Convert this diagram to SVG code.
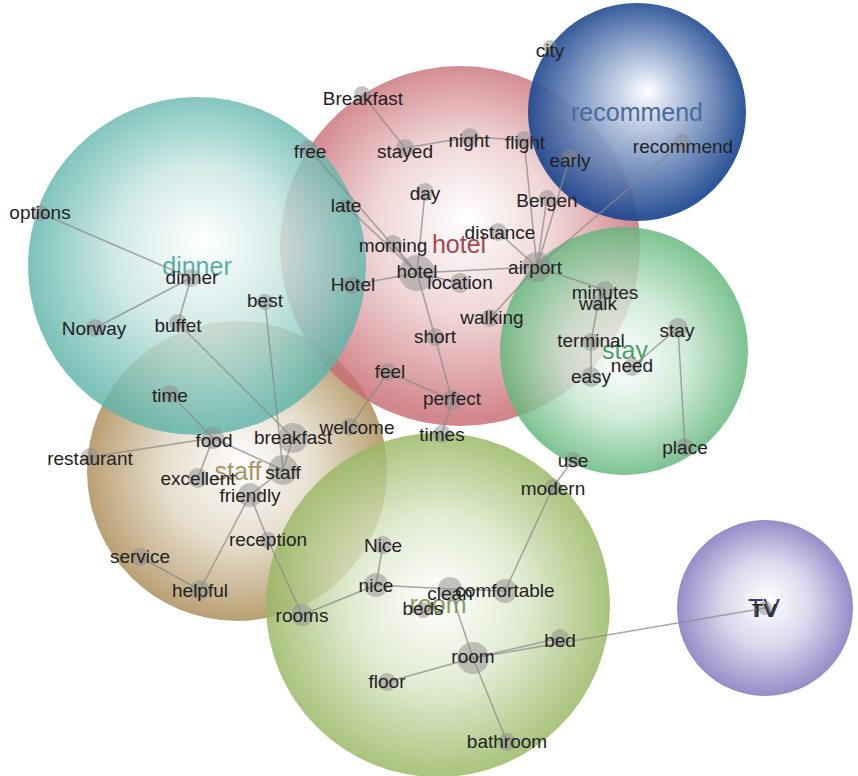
<svg xmlns="http://www.w3.org/2000/svg" width="858" height="776" viewBox="0 0 858 776">
<style>
.bg{fill:#ffffff}
.cl{stroke:none;opacity:0.82}
.e{stroke:#8a8a8a;stroke-opacity:0.75;stroke-width:1.5;fill:none}
.n{fill:#8c8c8c;fill-opacity:0.5;stroke:none}
.t{font-family:"Liberation Sans",Arial,sans-serif;font-size:19px;fill:#222;text-anchor:middle}
.g{font-family:"Liberation Sans",Arial,sans-serif;font-size:25px;text-anchor:middle}
</style>
<defs>
<radialGradient id="gDinner" cx="50%" cy="48%" r="50%" fx="52%" fy="42%"><stop offset="0" stop-color="#ffffff"/><stop offset="0.5" stop-color="#c7e5e1"/><stop offset="1" stop-color="#5fb5ab"/></radialGradient>
<radialGradient id="gHotel" cx="50%" cy="48%" r="50%" fx="52%" fy="42%"><stop offset="0" stop-color="#ffffff"/><stop offset="0.5" stop-color="#eccccd"/><stop offset="1" stop-color="#c86c73"/></radialGradient>
<radialGradient id="gRec" cx="50%" cy="48%" r="50%" fx="55%" fy="40%"><stop offset="0" stop-color="#ffffff"/><stop offset="0.2" stop-color="#cdd8ea"/><stop offset="1" stop-color="#1d4790"/></radialGradient>
<radialGradient id="gStay" cx="50%" cy="50%" r="50%" fx="50%" fy="55%"><stop offset="0" stop-color="#ffffff"/><stop offset="0.5" stop-color="#c7e6d0"/><stop offset="1" stop-color="#60b679"/></radialGradient>
<radialGradient id="gStaff" cx="50%" cy="50%" r="50%" fx="52%" fy="48%"><stop offset="0" stop-color="#ffffff"/><stop offset="0.5" stop-color="#e1d7c3"/><stop offset="1" stop-color="#aa8b54"/></radialGradient>
<radialGradient id="gRoom" cx="50%" cy="50%" r="50%" fx="50%" fy="48%"><stop offset="0" stop-color="#ffffff"/><stop offset="0.5" stop-color="#dbe6c8"/><stop offset="1" stop-color="#97b660"/></radialGradient>
<radialGradient id="gTV" cx="50%" cy="50%" r="50%" fx="52%" fy="45%"><stop offset="0" stop-color="#ffffff"/><stop offset="0.5" stop-color="#d2cee8"/><stop offset="1" stop-color="#7f73bc"/></radialGradient>
</defs>
<rect class="bg" x="0" y="0" width="858" height="776"/>

<g id="clusters">
<circle id="c-staff" class="cl" cx="237" cy="471" r="150" fill="url(#gStaff)"/>
<circle id="c-hotel" class="cl" cx="460" cy="246" r="180" fill="url(#gHotel)"/>
<circle id="c-dinner" class="cl" cx="197" cy="266" r="169" fill="url(#gDinner)"/>
<circle id="c-room" class="cl" cx="438" cy="605" r="172" fill="url(#gRoom)"/>
<circle id="c-stay" class="cl" cx="624" cy="351" r="124" fill="url(#gStay)"/>
<circle id="c-recommend" class="cl" cx="637" cy="112" r="109" fill="url(#gRec)" style="opacity:0.92"/>
<circle id="c-tv" class="cl" cx="765" cy="608" r="88" fill="url(#gTV)"/>
</g>

<g id="cluster-labels">
<text class="g" x="197" y="275" fill="#5aaea8">dinner</text>
<text class="g" x="459" y="253" fill="#a8464f">hotel</text>
<text class="g" x="637" y="121" fill="#4a6a9c">recommend</text>
<text class="g" x="625" y="359" fill="#4a9e68">stay</text>
<text class="g" x="238" y="480" fill="#ad9163">staff</text>
<text class="g" x="438" y="613" fill="#8c9a5c">room</text>
<text class="g" x="764" y="617" fill="#3a3a6e">TV</text>
</g>

<g id="connectors">
<line class="e" x1="362" y1="94" x2="405" y2="148"/>
<line class="e" x1="405" y1="148" x2="470" y2="137"/>
<line class="e" x1="470" y1="137" x2="524" y2="140"/>
<line class="e" x1="524" y1="140" x2="537" y2="267"/>
<line class="e" x1="570" y1="157" x2="537" y2="267"/>
<line class="e" x1="547" y1="198" x2="537" y2="267"/>
<line class="e" x1="498" y1="232" x2="537" y2="267"/>
<line class="e" x1="417" y1="273" x2="537" y2="267"/>
<line class="e" x1="490" y1="318" x2="537" y2="267"/>
<line class="e" x1="605" y1="290" x2="537" y2="267"/>
<line class="e" x1="682" y1="143" x2="537" y2="267"/>
<line class="e" x1="308" y1="148" x2="417" y2="273"/>
<line class="e" x1="346" y1="206" x2="417" y2="273"/>
<line class="e" x1="393" y1="244" x2="417" y2="273"/>
<line class="e" x1="352" y1="285" x2="417" y2="273"/>
<line class="e" x1="460" y1="283" x2="417" y2="273"/>
<line class="e" x1="425" y1="192" x2="417" y2="273"/>
<line class="e" x1="417" y1="273" x2="435" y2="337"/>
<line class="e" x1="435" y1="337" x2="452" y2="400"/>
<line class="e" x1="452" y1="400" x2="442" y2="434"/>
<line class="e" x1="388" y1="372" x2="452" y2="400"/>
<line class="e" x1="388" y1="372" x2="350" y2="427"/>
<line class="e" x1="40" y1="213" x2="191" y2="278"/>
<line class="e" x1="191" y1="278" x2="95" y2="328"/>
<line class="e" x1="191" y1="278" x2="178" y2="323"/>
<line class="e" x1="178" y1="323" x2="293" y2="438"/>
<line class="e" x1="265" y1="302" x2="283" y2="470"/>
<line class="e" x1="170" y1="394" x2="213" y2="438"/>
<line class="e" x1="90" y1="457" x2="213" y2="438"/>
<line class="e" x1="213" y1="438" x2="198" y2="478"/>
<line class="e" x1="213" y1="438" x2="283" y2="470"/>
<line class="e" x1="293" y1="438" x2="283" y2="470"/>
<line class="e" x1="283" y1="470" x2="250" y2="495"/>
<line class="e" x1="250" y1="495" x2="268" y2="540"/>
<line class="e" x1="268" y1="540" x2="302" y2="615"/>
<line class="e" x1="250" y1="495" x2="200" y2="590"/>
<line class="e" x1="140" y1="557" x2="200" y2="590"/>
<line class="e" x1="302" y1="615" x2="376" y2="585"/>
<line class="e" x1="376" y1="585" x2="383" y2="545"/>
<line class="e" x1="376" y1="585" x2="450" y2="589"/>
<line class="e" x1="450" y1="589" x2="473" y2="658"/>
<line class="e" x1="450" y1="589" x2="505" y2="591"/>
<line class="e" x1="505" y1="591" x2="553" y2="487"/>
<line class="e" x1="553" y1="487" x2="573" y2="460"/>
<line class="e" x1="473" y1="658" x2="387" y2="682"/>
<line class="e" x1="473" y1="658" x2="507" y2="742"/>
<line class="e" x1="473" y1="658" x2="560" y2="638"/>
<line class="e" x1="473" y1="658" x2="765" y2="608"/>
<line class="e" x1="605" y1="290" x2="598" y2="303"/>
<line class="e" x1="598" y1="303" x2="591" y2="342"/>
<line class="e" x1="591" y1="342" x2="591" y2="377"/>
<line class="e" x1="632" y1="367" x2="678" y2="328"/>
<line class="e" x1="678" y1="328" x2="685" y2="447"/>
</g>

<g id="nodes">
<g id="n-Breakfast"><circle class="n" cx="362" cy="94" r="8"/><text class="t" x="363" y="105">Breakfast</text></g>
<g id="n-stayed"><circle class="n" cx="405" cy="148" r="9"/><text class="t" x="405" y="158">stayed</text></g>
<g id="n-night"><circle class="n" cx="470" cy="137" r="9"/><text class="t" x="469" y="147">night</text></g>
<g id="n-flight"><circle class="n" cx="524" cy="140" r="9"/><text class="t" x="525" y="149">flight</text></g>
<g id="n-free"><circle class="n" cx="308" cy="148" r="8"/><text class="t" x="310" y="158">free</text></g>
<g id="n-day"><circle class="n" cx="425" cy="192" r="9"/><text class="t" x="425" y="200">day</text></g>
<g id="n-late"><circle class="n" cx="346" cy="206" r="7"/><text class="t" x="346" y="212">late</text></g>
<g id="n-Bergen"><circle class="n" cx="547" cy="198" r="8"/><text class="t" x="547" y="207">Bergen</text></g>
<g id="n-early"><circle class="n" cx="570" cy="157" r="8"/><text class="t" x="570" y="167">early</text></g>
<g id="n-city"><circle class="n" cx="550" cy="47" r="7"/><text class="t" x="550" y="57">city</text></g>
<g id="n-recommend"><circle class="n" cx="682" cy="143" r="9"/><text class="t" x="683" y="153">recommend</text></g>
<g id="n-distance"><circle class="n" cx="498" cy="232" r="9"/><text class="t" x="500" y="239">distance</text></g>
<g id="n-morning"><circle class="n" cx="393" cy="244" r="9"/><text class="t" x="393" y="252">morning</text></g>
<g id="n-hotel"><circle class="n" cx="417" cy="273" r="18"/><text class="t" x="417" y="278">hotel</text></g>
<g id="n-location"><circle class="n" cx="460" cy="283" r="10"/><text class="t" x="460" y="289">location</text></g>
<g id="n-Hotel"><circle class="n" cx="352" cy="285" r="9"/><text class="t" x="353" y="291">Hotel</text></g>
<g id="n-airport"><circle class="n" cx="537" cy="267" r="15"/><text class="t" x="535" y="274">airport</text></g>
<g id="n-walking"><circle class="n" cx="490" cy="318" r="9"/><text class="t" x="492" y="324">walking</text></g>
<g id="n-short"><circle class="n" cx="435" cy="337" r="9"/><text class="t" x="435" y="343">short</text></g>
<g id="n-feel"><circle class="n" cx="388" cy="372" r="9"/><text class="t" x="390" y="378">feel</text></g>
<g id="n-perfect"><circle class="n" cx="452" cy="400" r="10"/><text class="t" x="452" y="405">perfect</text></g>
<g id="n-welcome"><circle class="n" cx="350" cy="427" r="9"/><text class="t" x="357" y="434">welcome</text></g>
<g id="n-times"><circle class="n" cx="442" cy="434" r="9"/><text class="t" x="442" y="441">times</text></g>
<g id="n-minutes"><circle class="n" cx="605" cy="290" r="9"/><text class="t" x="605" y="299">minutes</text></g>
<g id="n-walk"><circle class="n" cx="598" cy="303" r="8"/><text class="t" x="598" y="310">walk</text></g>
<g id="n-terminal"><circle class="n" cx="591" cy="342" r="9"/><text class="t" x="591" y="347">terminal</text></g>
<g id="n-easy"><circle class="n" cx="591" cy="377" r="10"/><text class="t" x="591" y="383">easy</text></g>
<g id="n-need"><circle class="n" cx="632" cy="367" r="9"/><text class="t" x="632" y="372">need</text></g>
<g id="n-stay"><circle class="n" cx="678" cy="328" r="10"/><text class="t" x="677" y="337">stay</text></g>
<g id="n-place"><circle class="n" cx="685" cy="447" r="9"/><text class="t" x="685" y="454">place</text></g>
<g id="n-use"><circle class="n" cx="573" cy="460" r="8"/><text class="t" x="573" y="467">use</text></g>
<g id="n-options"><circle class="n" cx="40" cy="213" r="8"/><text class="t" x="40" y="219">options</text></g>
<g id="n-dinner"><circle class="n" cx="191" cy="278" r="9"/><text class="t" x="192" y="284">dinner</text></g>
<g id="n-Norway"><circle class="n" cx="95" cy="328" r="9"/><text class="t" x="94" y="335">Norway</text></g>
<g id="n-buffet"><circle class="n" cx="178" cy="323" r="9"/><text class="t" x="178" y="332">buffet</text></g>
<g id="n-best"><circle class="n" cx="265" cy="302" r="8"/><text class="t" x="265" y="307">best</text></g>
<g id="n-time"><circle class="n" cx="170" cy="394" r="9"/><text class="t" x="170" y="402">time</text></g>
<g id="n-food"><circle class="n" cx="213" cy="438" r="11"/><text class="t" x="214" y="447">food</text></g>
<g id="n-breakfast"><circle class="n" cx="293" cy="438" r="15"/><text class="t" x="293" y="444">breakfast</text></g>
<g id="n-restaurant"><circle class="n" cx="90" cy="457" r="9"/><text class="t" x="90" y="465">restaurant</text></g>
<g id="n-excellent"><circle class="n" cx="198" cy="478" r="10"/><text class="t" x="198" y="485">excellent</text></g>
<g id="n-staff"><circle class="n" cx="283" cy="470" r="15"/><text class="t" x="283" y="479">staff</text></g>
<g id="n-friendly"><circle class="n" cx="250" cy="495" r="12"/><text class="t" x="250" y="502">friendly</text></g>
<g id="n-reception"><circle class="n" cx="268" cy="540" r="8"/><text class="t" x="268" y="546">reception</text></g>
<g id="n-service"><circle class="n" cx="140" cy="557" r="9"/><text class="t" x="140" y="563">service</text></g>
<g id="n-helpful"><circle class="n" cx="200" cy="590" r="10"/><text class="t" x="200" y="597">helpful</text></g>
<g id="n-rooms"><circle class="n" cx="302" cy="615" r="11"/><text class="t" x="302" y="622">rooms</text></g>
<g id="n-modern"><circle class="n" cx="553" cy="487" r="8"/><text class="t" x="553" y="495">modern</text></g>
<g id="n-Nice"><circle class="n" cx="383" cy="545" r="9"/><text class="t" x="383" y="552">Nice</text></g>
<g id="n-nice"><circle class="n" cx="376" cy="585" r="12"/><text class="t" x="376" y="592">nice</text></g>
<g id="n-clean"><circle class="n" cx="450" cy="589" r="12"/><text class="t" x="450" y="600">clean</text></g>
<g id="n-comfortable"><circle class="n" cx="505" cy="591" r="12"/><text class="t" x="505" y="597">comfortable</text></g>
<g id="n-beds"><circle class="n" cx="423" cy="610" r="8"/><text class="t" x="423" y="615">beds</text></g>
<g id="n-room"><circle class="n" cx="473" cy="658" r="16"/><text class="t" x="473" y="663">room</text></g>
<g id="n-bed"><circle class="n" cx="560" cy="638" r="9"/><text class="t" x="560" y="647">bed</text></g>
<g id="n-floor"><circle class="n" cx="387" cy="682" r="9"/><text class="t" x="387" y="688">floor</text></g>
<g id="n-bathroom"><circle class="n" cx="507" cy="742" r="9"/><text class="t" x="507" y="748">bathroom</text></g>
<g id="n-TV"><circle class="n" cx="765" cy="608" r="7"/><text class="t" x="764" y="617">TV</text></g>
</g>
</svg>
